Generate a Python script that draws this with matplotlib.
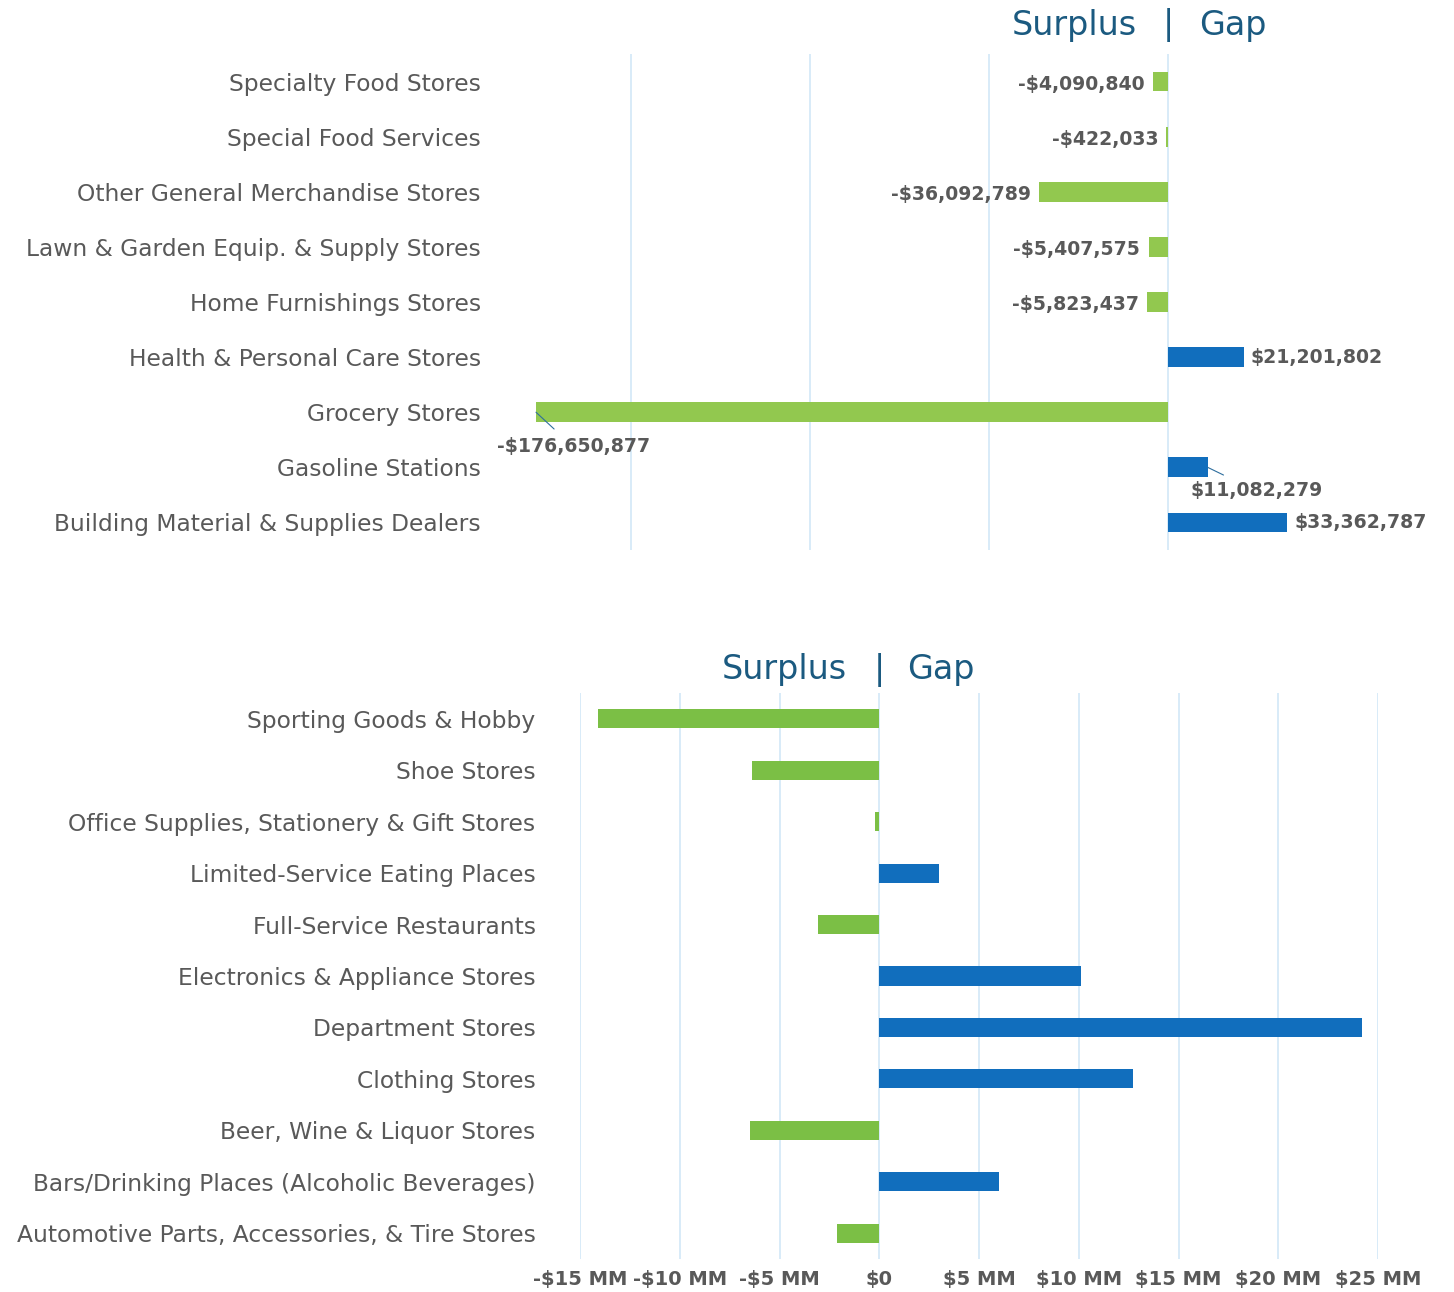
import numpy as np
import matplotlib.pyplot as plt
from matplotlib.transforms import blended_transform_factory

# top chart: surplus (negative) / gap (positive), dollars
top_cats = ["Specialty Food Stores", "Special Food Services",
            "Other General Merchandise Stores", "Lawn & Garden Equip. & Supply Stores",
            "Home Furnishings Stores", "Health & Personal Care Stores",
            "Grocery Stores", "Gasoline Stations", "Building Material & Supplies Dealers"]
top_vals = [-4090840, -422033, -36092789, -5407575, -5823437,
            21201802, -176650877, 11082279, 33362787]

# bottom chart, millions of dollars
bot_cats = ["Sporting Goods & Hobby", "Shoe Stores",
            "Office Supplies, Stationery & Gift Stores", "Limited-Service Eating Places",
            "Full-Service Restaurants", "Electronics & Appliance Stores",
            "Department Stores", "Clothing Stores", "Beer, Wine & Liquor Stores",
            "Bars/Drinking Places (Alcoholic Beverages)",
            "Automotive Parts, Accessories, & Tire Stores"]
bot_vals = [-14.1, -6.4, -0.2, 3.0, -3.05, 10.1, 24.2, 12.7, -6.5, 6.0, -2.1]
bot_ticks = [-15, -10, -5, 0, 5, 10, 15, 20, 25]
bot_ticklabels = ["-$15 MM", "-$10 MM", "-$5 MM", "$0", "$5 MM",
                  "$10 MM", "$15 MM", "$20 MM", "$25 MM"]

W, H = 1454, 1292
fig = plt.figure(figsize=(W / 100, H / 100), dpi=100)

title_c = "#1B5A80"
lab_c = "#595959"
grid_c = "#D2E8F7"


def px_axes(l, t, r, b):
    return fig.add_axes([l / W, 1 - b / H, (r - l) / W, (b - t) / H])


def style(ax, pad):
    for s in ax.spines.values():
        s.set_visible(False)
    ax.tick_params(axis="y", length=0, pad=pad, labelsize=16.8, labelcolor=lab_c)
    ax.set_axisbelow(True)
    ax.grid(axis="x", color=grid_c, lw=1.2)


def title(ax):
    return blended_transform_factory(ax.transData, fig.transFigure)


# ---- top chart
ax1 = px_axes(524, 54, 1329, 550)
y1 = np.arange(len(top_cats))
vals_m = np.array(top_vals) / 1e6
cols1 = ["#92C84F" if v < 0 else "#116EBD" for v in top_vals]
ax1.barh(y1, vals_m, height=0.36, color=cols1)
ax1.set_xlim(-180, 45)
ax1.set_ylim(len(top_cats) - 0.5, -0.5)
ax1.set_yticks(y1, top_cats)
ax1.set_xticks([-150, -100, -50, 0])
ax1.tick_params(axis="x", length=0, labelbottom=False)
style(ax1, 31)

for i, v in enumerate(top_vals):
    txt = f"-${abs(v):,.0f}" if v < 0 else f"${v:,.0f}"
    kw = dict(fontsize=13.6, fontweight="bold", color=lab_c, va="center")
    if top_cats[i] == "Grocery Stores":
        ax1.annotate(txt, xy=(v / 1e6, i), xytext=(27, -25), textcoords="offset points",
                     ha="center", arrowprops=dict(arrowstyle="-", color="#2E6E9E", lw=0.8,
                                                  shrinkA=6, shrinkB=0), **kw)
    elif top_cats[i] == "Gasoline Stations":
        ax1.annotate(txt, xy=(v / 1e6, i), xytext=(35, -17), textcoords="offset points",
                     ha="center", arrowprops=dict(arrowstyle="-", color="#2E6E9E", lw=0.8,
                                                  shrinkA=6, shrinkB=0), **kw)
    elif v < 0:
        ax1.annotate(txt, xy=(v / 1e6, i), xytext=(-6, -2), textcoords="offset points",
                     ha="right", **kw)
    else:
        ax1.annotate(txt, xy=(v / 1e6, i), xytext=(5, 0), textcoords="offset points",
                     ha="left", **kw)

tr1 = title(ax1)
ax1.text(-8.7, 1 - 25 / H, "Surplus", transform=tr1, ha="right", va="center",
         fontsize=24, color=title_c)
ax1.text(0, 1 - 25 / H, "|", transform=tr1, ha="center", va="center",
         fontsize=24, color=title_c)
ax1.text(8.7, 1 - 25 / H, "Gap", transform=tr1, ha="left", va="center",
         fontsize=24, color=title_c)

# ---- bottom chart
ax2 = px_axes(580, 693, 1378, 1259)
y2 = np.arange(len(bot_cats))
cols2 = ["#7BBF45" if v < 0 else "#116EBD" for v in bot_vals]
ax2.barh(y2, bot_vals, height=0.37, color=cols2)
ax2.set_xlim(-15, 25)
ax2.set_ylim(len(bot_cats) - 0.5, -0.5)
ax2.set_yticks(y2, bot_cats)
ax2.set_xticks(bot_ticks, bot_ticklabels)
ax2.tick_params(axis="x", length=0, pad=8, labelsize=14, labelcolor=lab_c)
for t in ax2.get_xticklabels():
    t.set_fontweight("bold")
style(ax2, 32)

tr2 = title(ax2)
ax2.text(-1.6, 1 - 670 / H, "Surplus", transform=tr2, ha="right", va="center",
         fontsize=24, color=title_c)
ax2.text(0, 1 - 670 / H, "|", transform=tr2, ha="center", va="center",
         fontsize=24, color=title_c)
ax2.text(1.4, 1 - 670 / H, "Gap", transform=tr2, ha="left", va="center",
         fontsize=24, color=title_c)

fig.savefig("out.png", dpi=100)
